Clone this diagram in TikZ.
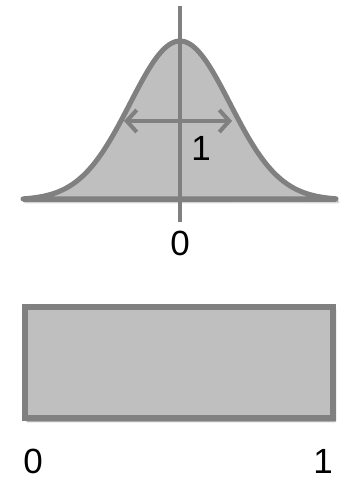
\documentclass[tikz,border=0pt]{standalone}
\usepackage{fontspec}
\setmainfont{Liberation Sans}
\usetikzlibrary{arrows.meta,shadows.blur}
\definecolor{linegray}{HTML}{808080}
\definecolor{fillgray}{HTML}{BFBFBF}

\begin{document}
\begin{tikzpicture}[
  x=1pt, y=-1pt,
  shade/.style={blur shadow={shadow xshift=2pt, shadow yshift=-3pt, shadow blur steps=6, shadow opacity=50}},
  curve/.style={draw=linegray, line width=5pt, fill=fillgray, line join=round, shade},
  axis/.style={draw=linegray, line width=4pt},
  bar/.style={draw=linegray, line width=6pt, fill=fillgray, shade},
  spread/.style={draw=linegray, line width=4pt, {Straight Barb[length=10pt, width=22pt]}-{Straight Barb[length=10pt, width=22pt]}},
  num/.style={font=\fontsize{35}{38}\selectfont, inner sep=0pt}
]
\useasboundingbox (0,0) rectangle (341,479);

% bell curve
\draw[curve] plot[domain=23:336, samples=90, smooth] (\x, {200-159*exp(-0.5*((\x-180)/50)^2)}) -- cycle;
\draw[axis] (23,200) -- (336,200);
\draw[axis] (180,6) -- (180,222);

% width marker
\coordinate (hl) at (124,121);
\coordinate (hr) at (232,121);
\draw[spread] (hl) -- (hr);
\node[num] (one) at (201,148) {1};
\node[num] (zero) at (180,243) {0};

% uniform box
\draw[bar] (25,307) rectangle (333,418);
\node[num] (lo) at (33,461) {0};
\node[num] (hi) at (323,461) {1};
\end{tikzpicture}
\end{document}
